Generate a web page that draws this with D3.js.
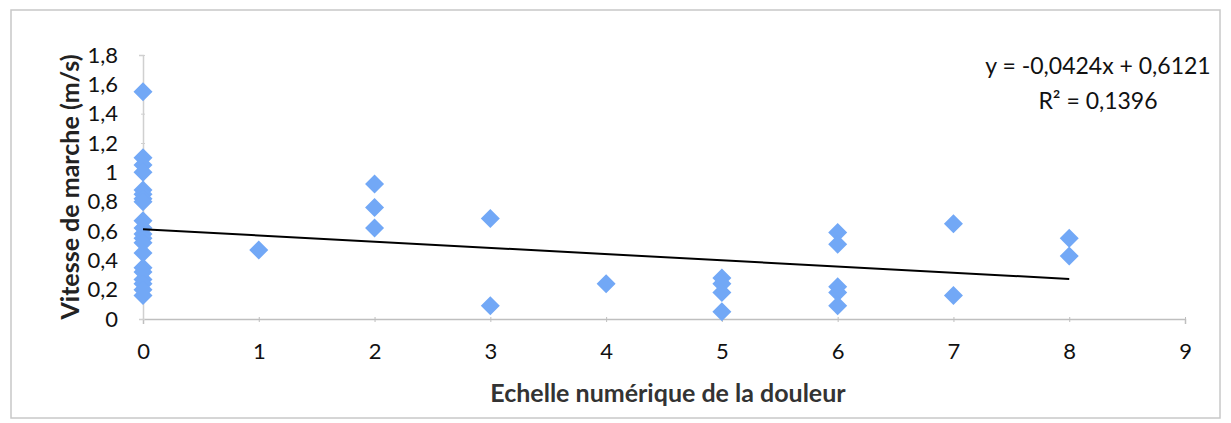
<!DOCTYPE html>
<html>
<head>
<meta charset="utf-8">
<script src="https://cdn.jsdelivr.net/npm/d3@7"></script>
<style>
  body { margin: 0; background: #fff; }
  text { font-family: Lato, "Open Sans", sans-serif; }
</style>
</head>
<body>
<div id="graph"></div>
<script>
// douleur (x) / vitesse (y)
var painX = [0, 0, 0, 0, 0, 0, 0, 0, 0, 0, 0, 0, 0, 0, 0, 0, 0, 0, 0, 0,
             1, 2, 2, 2, 3, 3, 4, 5, 5, 5, 5, 6, 6, 6, 6, 6, 7, 7, 8, 8];
var speedY = [1.55, 1.10, 1.05, 1.00, 0.88, 0.85, 0.82, 0.80, 0.67, 0.62, 0.58, 0.55, 0.52, 0.45, 0.35, 0.32, 0.27, 0.24, 0.20, 0.16,
              0.47, 0.92, 0.76, 0.62, 0.685, 0.09, 0.24, 0.28, 0.24, 0.18, 0.05, 0.59, 0.51, 0.22, 0.18, 0.09, 0.65, 0.16, 0.55, 0.43];
var xTicks = [0, 1, 2, 3, 4, 5, 6, 7, 8, 9];
var yTicks = [0, 0.2, 0.4, 0.6, 0.8, 1, 1.2, 1.4, 1.6, 1.8];
var trendSlope = -0.0424, trendIntercept = 0.6121;
var trendRange = [0, 8];
var eqLines = ["y = -0,0424x + 0,6121", "R² = 0,1396"];

var width = 1231, height = 423;
var svg = d3.select("#graph").append("svg")
    .attr("width", width)
    .attr("height", height);

// cadre
svg.append("rect")
    .attr("x", 11).attr("y", 10)
    .attr("width", 1209).attr("height", 408)
    .attr("fill", "none")
    .attr("stroke", "#c8c8c8")
    .attr("stroke-width", 1.5);

var x = d3.scaleLinear().domain([0, 9]).range([143, 1185]);
var y = d3.scaleLinear().domain([0, 1.8]).range([319, 55]);
var fmt = function (d) { return String(d).replace(".", ","); };

// axe x
var gx = svg.append("g")
    .attr("transform", "translate(0," + y(0) + ")")
    .call(d3.axisBottom(x).tickValues(xTicks).tickSize(5).tickFormat(fmt));
gx.select(".domain").attr("stroke", "#bfbfbf").attr("stroke-width", 1.5);
gx.selectAll(".tick line").attr("stroke", "#bfbfbf").attr("transform", "translate(0,-2)");
gx.selectAll(".tick text")
    .attr("y", 24)
    .attr("font-size", "22px")
    .attr("fill", "#111");

// axe y
var gy = svg.append("g")
    .attr("transform", "translate(" + x(0) + ",0)")
    .call(d3.axisLeft(y).tickValues(yTicks).tickSize(4).tickFormat(fmt));
gy.select(".domain").attr("stroke", "#d0d0d0").attr("stroke-width", 1.5);
gy.selectAll(".tick line").attr("stroke", "#d0d0d0").attr("transform", "translate(2,0)");
gy.selectAll(".tick text")
    .attr("x", -25)
    .attr("font-size", "22px")
    .attr("fill", "#111");
svg.selectAll(".tick text").attr("font-family", "Lato, sans-serif");

// titres
svg.append("text")
    .attr("transform", "translate(79,187) rotate(-90)")
    .attr("text-anchor", "middle")
    .attr("font-size", "25px")
    .attr("font-weight", "bold")
    .attr("fill", "#222")
    .text("Vitesse de marche (m/s)");

svg.append("text")
    .attr("x", 668).attr("y", 402)
    .attr("text-anchor", "middle")
    .attr("font-size", "25px")
    .attr("font-weight", "bold")
    .attr("fill", "#333")
    .text("Echelle numérique de la douleur");

// points
var diamond = d3.symbol().type(d3.symbolDiamond2).size(230);
svg.append("g").selectAll("path")
    .data(painX.map(function (d, i) { return [d, speedY[i]]; }))
    .enter().append("path")
    .attr("d", diamond)
    .attr("transform", function (d) { return "translate(" + x(d[0]) + "," + y(d[1]) + ")"; })
    .attr("fill", "#72a8f6");

// droite de tendance
var line = d3.line()
    .x(function (d) { return x(d); })
    .y(function (d) { return y(trendSlope * d + trendIntercept); });
svg.append("path")
    .datum(trendRange)
    .attr("d", line)
    .attr("stroke", "#000")
    .attr("stroke-width", 2)
    .attr("fill", "none");

// equation
svg.append("g").selectAll("text")
    .data(eqLines)
    .enter().append("text")
    .attr("x", 1098)
    .attr("y", function (d, i) { return 74 + i * 35; })
    .attr("text-anchor", "middle")
    .attr("font-size", "23px")
    .attr("fill", "#111")
    .text(function (d) { return d; });
</script>
</body>
</html>
